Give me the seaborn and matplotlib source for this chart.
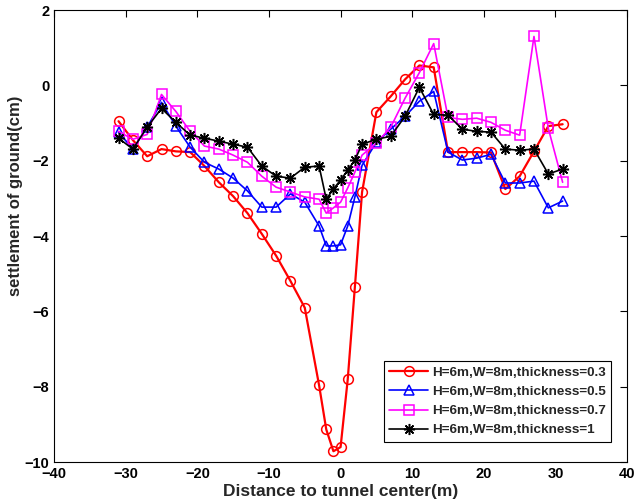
import matplotlib
matplotlib.use("Agg")
import matplotlib.pyplot as plt
import numpy as np
import pandas as pd
import seaborn as sns

# distance to tunnel center (m)
distance = [-31, -29, -27, -25, -23, -21, -19, -17, -15, -13, -11, -9, -7, -5,
            -3, -2, -1, 0, 1, 2, 3,
            5, 7, 9, 11, 13, 15, 17, 19, 21, 23, 25, 27, 29, 31]

# settlement of ground (cm)
t03 = [-0.95, -1.45, -1.88, -1.69, -1.75, -1.77, -2.14, -2.57, -2.94, -3.39, -3.94, -4.52, -5.19, -5.90,
       -7.96, -9.13, -9.71, -9.60, -7.80, -5.34, -2.83,
       -0.71, -0.29, 0.16, 0.53, 0.48, -1.77, -1.77, -1.77, -1.78, -2.75, -2.41, -1.75, -1.08, -1.03]
t05 = [-1.24, -1.69, -1.11, -0.45, -1.08, -1.64, -2.04, -2.22, -2.46, -2.80, -3.23, -3.23, -2.88, -3.10,
       -3.73, -4.26, -4.26, -4.23, -3.73, -2.96, -2.12,
       -1.51, -1.16, -0.82, -0.42, -0.16, -1.77, -1.98, -1.93, -1.83, -2.59, -2.59, -2.54, -3.25, -3.07]
t07 = [-1.22, -1.43, -1.30, -0.24, -0.69, -1.22, -1.61, -1.69, -1.85, -2.04, -2.41, -2.70, -2.83, -2.96,
       -3.02, -3.39, -3.25, -3.10, -2.72, -2.30, -1.85,
       -1.53, -1.11, -0.34, 0.34, 1.11, -0.85, -0.90, -0.87, -0.98, -1.19, -1.32, 1.30, -1.14, -2.57]
t10 = [-1.40, -1.69, -1.11, -0.61, -0.98, -1.32, -1.40, -1.48, -1.56, -1.64, -2.14, -2.41, -2.46, -2.17,
       -2.14, -3.02, -2.75, -2.51, -2.25, -1.98, -1.56,
       -1.43, -1.35, -0.82, -0.05, -0.77, -0.79, -1.16, -1.22, -1.24, -1.69, -1.72, -1.69, -2.35, -2.22]

labels = ["H=6m,W=8m,thickness=0.3", "H=6m,W=8m,thickness=0.5",
          "H=6m,W=8m,thickness=0.7", "H=6m,W=8m,thickness=1"]
series = [t03, t05, t07, t10]
colors = ["#ff0000", "#0000ff", "#ff00ff", "#000000"]
markers = ["o", "^", "s", (8, 2, 0)]

sns.set_style("white")
plt.rcParams["font.family"] = ["Liberation Sans", "DejaVu Sans"]
plt.rcParams["font.weight"] = "bold"

fig = plt.figure(figsize=(6.36, 5.04), dpi=100)
ax = fig.add_axes([0.085, 0.083, 0.901, 0.897])

for lab, vals, col, mk in zip(labels, series, colors, markers):
    df = pd.DataFrame({"x": distance, "y": vals})
    sns.lineplot(data=df, x="x", y="y", ax=ax, color=col, marker=mk,
                 markersize=7 if mk != (8, 2, 0) else 8,
                 mfc="none", mec=col, mew=1.1,
                 lw=1.6 if col == "#ff0000" else 1.2,
                 label=lab, sort=False)

ax.set_xlim(-40, 40)
ax.set_ylim(-10, 2)
ax.set_xticks(np.arange(-40, 41, 10))
ax.set_yticks(np.arange(-10, 3, 2))
ax.tick_params(direction="in", top=True, right=True, length=5, width=0.8,
               labelsize=10.5, colors="black")
for lbl in ax.get_xticklabels() + ax.get_yticklabels():
    lbl.set_fontweight("bold")
for sp in ax.spines.values():
    sp.set_color("black")
    sp.set_linewidth(0.8)

ax.set_xlabel("Distance to tunnel center(m)", fontsize=12.5, fontweight="bold", labelpad=2)
ax.set_ylabel("settlement of ground(cm)", fontsize=12, fontweight="bold")
ax.yaxis.set_label_coords(-0.055, 0.59)

leg = ax.legend(loc="lower right", bbox_to_anchor=(0.972, 0.045), fontsize=9.7,
                frameon=True, fancybox=False, edgecolor="black", framealpha=1,
                handlelength=2.9, handletextpad=0.25, borderpad=0.4,
                labelspacing=0.5, borderaxespad=0)
leg.get_frame().set_linewidth(0.8)
for t in leg.get_texts():
    t.set_fontweight("bold")

fig.savefig("out.png", dpi=100)
